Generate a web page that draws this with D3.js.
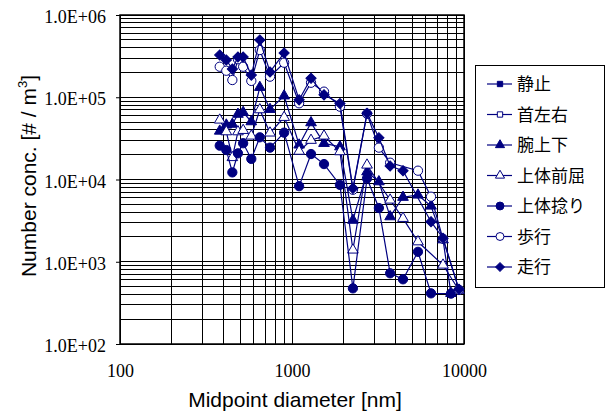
<!DOCTYPE html>
<html>
<head>
<meta charset="utf-8">
<script src="https://cdn.jsdelivr.net/npm/d3@7"></script>
<style>
  body { margin: 0; background: #fff; }
</style>
</head>
<body>
<svg width="609" height="412"></svg>
<script>
// midpoint diameters [nm]
var diameters = [380, 415, 450, 485, 520, 580, 650, 745, 900, 1100, 1290, 1535,
                 1900, 2260, 2730, 3200, 3720, 4420, 5400, 6430, 7550, 8400, 9350];

// number concentrations [#/m3], null = no visible point
var vSeishi = [];   // 静止 : no point visible on the chart
var vKubi = [];     // 首左右 : no point visible on the chart
var vUde = [3.88e4, 4.6e4, 4.7e4, 6.22e4, 6.56e4, 5.05e4, 1.32e5, 7.13e4, 1.04e5, 2.63e4, 4.91e4, 2.75e4,
            2.5e4, 3.2e3, 1.24e4, 9.4e3, 3.53e3, 6.08e3, 6.48e3, 4.76e3, 1.85e3, 413, null];
var vZenkutsu = [5.29e4, 3.81e4, 1.85e4, 3.81e4, 3.96e4, 3.38e4, 7.06e4, 3.68e4, 5.7e4, 2.21e4, 3.0e4, 3.38e4,
                 2.18e4, 1.39e3, 1.5e4, null, 5.63e3, 3.37e3, 1.75e3, null, 912, null, 450];
var vNejiri = [2.58e4, 2.28e4, 1.22e4, 2.08e4, 2.76e4, 1.78e4, 3.26e4, 2.44e4, 3.71e4, 8.3e3, 2.04e4, 1.54e4,
               8.6e3, 475, 1.03e4, 4.5e3, 724, 612, 1.32e3, 413, null, 410, null];
var vHoko = [2.35e5, 2.1e5, 1.62e5, 2.9e5, 2.35e5, 1.58e5, 3.75e5, 1.78e5, 2.63e5, 8.44e4, 1.5e5, 1.17e5,
             7.68e4, 7.5e3, 6.3e4, 2.44e4, 1.6e4, null, 1.28e4, 6.18e3, 1.9e3, null, 455];
var vSoko = [3.26e5, 2.84e5, 2.2e5, 3.08e5, 3.08e5, 1.86e5, 4.97e5, 2.03e5, 3.45e5, 9.3e4, 1.7e5, 1.07e5,
             8.4e4, 7.8e3, 6.4e4, 3.22e4, 1.46e4, 1.28e4, null, 3.07e3, 1.93e3, null, 462];

var seriesNames = ["静止", "首左右", "腕上下", "上体前屈", "上体捻り", "歩行", "走行"];
var seriesValues = [vSeishi, vKubi, vUde, vZenkutsu, vNejiri, vHoko, vSoko];
var seriesMarks = ["square", "square", "triangle", "triangle", "circle", "circle", "diamond"];
var seriesFilled = [true, false, true, false, true, false, true];

var xTickValues = [100, 1000, 10000];
var xTickLabels = ["100", "1000", "10000"];
var yTickValues = [1e2, 1e3, 1e4, 1e5, 1e6];
var yTickLabels = ["1.0E+02", "1.0E+03", "1.0E+04", "1.0E+05", "1.0E+06"];

var navy = "#000080";
var svg = d3.select("svg");

var x = d3.scaleLog().domain([100, 10000]).range([120, 464]);
var y = d3.scaleLog().domain([100, 1e6]).range([344, 15]);

// grid
var grid = svg.append("g").attr("stroke", "#000").attr("stroke-width", 1).attr("shape-rendering", "crispEdges");
grid.selectAll("line.vx")
    .data(x.ticks())
  .enter().append("line")
    .attr("x1", function(d) { return x(d); }).attr("x2", function(d) { return x(d); })
    .attr("y1", 15).attr("y2", 344);
grid.selectAll("line.hy")
    .data(y.ticks())
  .enter().append("line")
    .attr("y1", function(d) { return y(d); }).attr("y2", function(d) { return y(d); })
    .attr("x1", 120).attr("x2", 464);

// frame
svg.append("rect")
    .attr("x", 120).attr("y", 15).attr("width", 344).attr("height", 329)
    .attr("fill", "none").attr("stroke", "#000").attr("stroke-width", 1.5);

// axes
var yAxis = svg.append("g")
    .attr("transform", "translate(120,0)")
    .call(d3.axisLeft(y).tickValues(yTickValues).tickSize(4).tickPadding(10)
          .tickFormat(function(d, i) { return yTickLabels[i]; }));
var xAxis = svg.append("g")
    .attr("transform", "translate(0,344)")
    .call(d3.axisBottom(x).tickValues(xTickValues).tickSize(0).tickPadding(20)
          .tickFormat(function(d, i) { return xTickLabels[i]; }));
[yAxis, xAxis].forEach(function(a) {
  a.select(".domain").remove();
  a.selectAll("text").attr("font-family", "Liberation Serif, Times New Roman, serif")
    .attr("font-size", 18).attr("fill", "#000");
  a.selectAll("line").attr("stroke", "#000");
});
yAxis.selectAll("text").attr("dy", "0.42em");

// axis titles
svg.append("text")
    .attr("x", 295).attr("y", 407)
    .attr("text-anchor", "middle")
    .attr("font-family", "Liberation Sans, Arial, sans-serif").attr("font-size", 21)
    .text("Midpoint diameter [nm]");
var yt = svg.append("text")
    .attr("transform", "translate(36,176) rotate(-90)")
    .attr("text-anchor", "middle")
    .attr("font-family", "Liberation Sans, Arial, sans-serif").attr("font-size", 21);
yt.append("tspan").text("Number conc. [# / m");
yt.append("tspan").attr("font-size", 13).attr("dy", -9).text("3");
yt.append("tspan").attr("dy", 9).text("]");

// markers
function markerPath(kind, s) {
  if (kind === "square") return d3.symbol().type(d3.symbolSquare).size(s * 0.75)();
  if (kind === "triangle") return d3.symbol().type(d3.symbolTriangle).size(s * 0.95)();
  if (kind === "diamond") return d3.symbol().type(d3.symbolSquare).size(s)();
  return d3.symbol().type(d3.symbolCircle).size(s * 1.3)();
}
function markerTransform(kind, px, py) {
  return "translate(" + px + "," + py + ")" + (kind === "diamond" ? " rotate(45)" : "");
}

var line = d3.line()
    .x(function(d) { return x(d.d); })
    .y(function(d) { return y(d.v); });

seriesValues.forEach(function(vals, k) {
  var pts = vals.map(function(v, i) { return { d: diameters[i], v: v }; })
                .filter(function(p) { return p.v != null; });
  var g = svg.append("g");
  g.append("path")
    .datum(pts)
    .attr("d", line)
    .attr("fill", "none")
    .attr("stroke", navy)
    .attr("stroke-width", 1.2);
  g.selectAll("path.m")
    .data(pts)
  .enter().append("path")
    .attr("class", "m")
    .attr("d", markerPath(seriesMarks[k], 52))
    .attr("transform", function(p) { return markerTransform(seriesMarks[k], x(p.d), y(p.v)); })
    .attr("fill", seriesFilled[k] ? navy : "#fff")
    .attr("stroke", navy)
    .attr("stroke-width", 1);
});

// legend
var lg = svg.append("g");
lg.append("rect")
    .attr("x", 475.5).attr("y", 65.5).attr("width", 129).attr("height", 222)
    .attr("fill", "#fff").attr("stroke", "#000").attr("stroke-width", 1);
var rows = lg.selectAll("g.row")
    .data(seriesNames)
  .enter().append("g")
    .attr("transform", function(d, i) { return "translate(0," + (84 + i * 30.5) + ")"; });
rows.append("line")
    .attr("x1", 487).attr("x2", 512).attr("y1", 0).attr("y2", 0)
    .attr("stroke", navy).attr("stroke-width", 1.2);
rows.append("path")
    .attr("d", function(d, i) { return markerPath(seriesMarks[i], 38); })
    .attr("transform", function(d, i) { return markerTransform(seriesMarks[i], 500, 0); })
    .attr("fill", function(d, i) { return seriesFilled[i] ? navy : "#fff"; })
    .attr("stroke", navy).attr("stroke-width", 1);
rows.append("text")
    .attr("x", 517).attr("y", 0).attr("dy", "0.36em")
    .attr("font-family", "Noto Sans CJK JP, sans-serif").attr("font-size", 17)
    .text(function(d) { return d; });
</script>
</body>
</html>
